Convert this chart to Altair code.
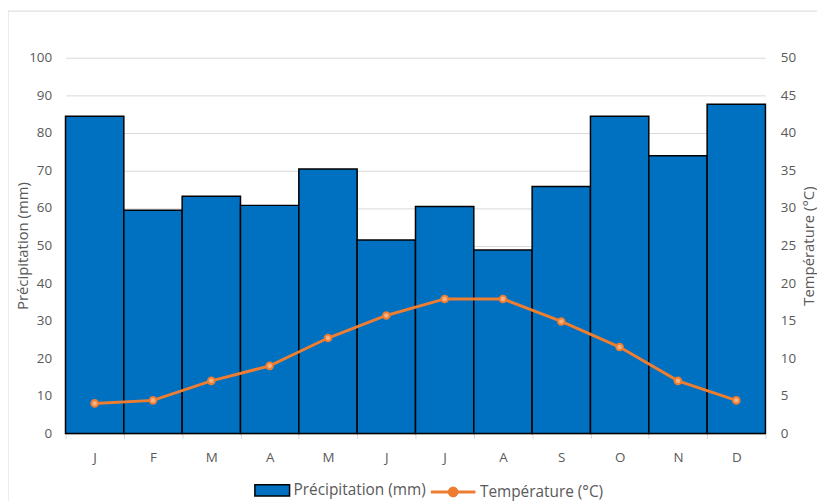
import altair as alt
import pandas as pd

months = ["J", "F", "M", "A", "M", "J", "J", "A", "S", "O", "N", "D"]
precip = [84.4, 59.4, 63.1, 60.7, 70.4, 51.5, 60.4, 48.8, 65.7, 84.4, 73.9, 87.6]
temp = [4.0, 4.4, 7.0, 9.0, 12.7, 15.7, 17.9, 17.9, 14.9, 11.5, 7.0, 4.4]

P_LABEL = "Précipitation (mm)"
T_LABEL = "Température (°C)"

df = pd.DataFrame({
    "idx": list(range(12)),
    "mois": months,
    "precip": precip,
    "temp": temp,
    "p": P_LABEL,
    "t": T_LABEL,
})

W, H = 706, 379
FONT = "Open Sans"
GREY = "#595959"

x_enc = alt.X(
    "idx:O",
    scale=alt.Scale(paddingInner=0, paddingOuter=0),
    axis=alt.Axis(
        title=None,
        labelExpr="['J','F','M','A','M','J','J','A','S','O','N','D'][datum.value]",
        labelAngle=0,
        labelPadding=12,
        tickBand="extent",
        tickSize=5,
        tickColor="#D9D9D9",
        domainColor="#D9D9D9",
        domainWidth=1,
        grid=False,
    ),
)

base = alt.Chart(df)

bars = base.mark_bar(stroke="black", strokeWidth=1.5).encode(
    x=x_enc,
    y=alt.Y(
        "precip:Q",
        scale=alt.Scale(domain=[0, 100]),
        axis=alt.Axis(
            title=P_LABEL,
            values=list(range(0, 101, 10)),
            grid=True,
            gridColor="#D9D9D9",
            domain=False,
            ticks=False,
            labelPadding=14,
            titlePadding=-2,
        ),
    ),
    fill=alt.Fill(
        "p:N",
        scale=alt.Scale(domain=[P_LABEL], range=["#0070C0"]),
        legend=alt.Legend(
            title=None,
            orient="none",
            legendX=197,
            legendY=425,
            symbolType="M-1.7,-0.55H1.7V0.55H-1.7Z",
            symbolSize=424,
            symbolStrokeColor="black",
            symbolStrokeWidth=1.5,
            labelOffset=10,
        ),
    ),
)

temp_y = alt.Y(
    "temp:Q",
    scale=alt.Scale(domain=[0, 50]),
    axis=alt.Axis(
        title=T_LABEL,
        orient="right",
        values=list(range(0, 51, 5)),
        grid=False,
        domain=False,
        ticks=False,
        labelPadding=15,
        titleAngle=270,
        titleBaseline="top",
        titlePadding=6,
    ),
)

line = base.mark_line(strokeWidth=3, color="#ED7D31").encode(
    x=x_enc,
    y=temp_y,
    stroke=alt.Stroke(
        "t:N",
        scale=alt.Scale(domain=[T_LABEL], range=["#ED7D31"]),
        legend=alt.Legend(
            title=None,
            orient="none",
            legendX=378,
            legendY=425,
            symbolType="M-2,0H2M0.35,0A0.35,0.35 0 1,1 -0.35,0A0.35,0.35 0 1,1 0.35,0",
            symbolSize=506,
            symbolStrokeWidth=3,
            symbolFillColor="#ED7D31",
            labelOffset=14,
        ),
    ),
)

pts = base.mark_point(shape="circle", size=45, filled=True, fill="#F4B183",
                      stroke="#ED7D31", strokeWidth=2, opacity=1).encode(
    x=x_enc,
    y=temp_y,
)

border = alt.Chart(alt.Data(values=[{"a": 1}])).mark_rect(
    fill=None, stroke="#D9D9D9", strokeWidth=1
).encode(
    x=alt.value(-58), x2=alt.value(W + 60),
    y=alt.value(-47), y2=alt.value(H + 70),
)

temp_layer = alt.layer(line, pts)

chart = alt.layer(bars, temp_layer, border).resolve_scale(
    y="independent"
).properties(
    width=W, height=H,
    autosize=alt.AutoSizeParams(type="none"),
    padding={"left": 58, "top": 48, "right": 52, "bottom": 68},
).configure_view(
    stroke=None
).configure_axis(
    labelFont=FONT, titleFont=FONT, labelColor=GREY, titleColor=GREY,
    labelFontSize=13.5, titleFontSize=15, titleFontWeight="normal",
).configure_legend(
    labelFont=FONT, labelColor=GREY, labelFontSize=15.5,
)

chart.save("out.html", embed_options={"renderer": "svg", "actions": False})
